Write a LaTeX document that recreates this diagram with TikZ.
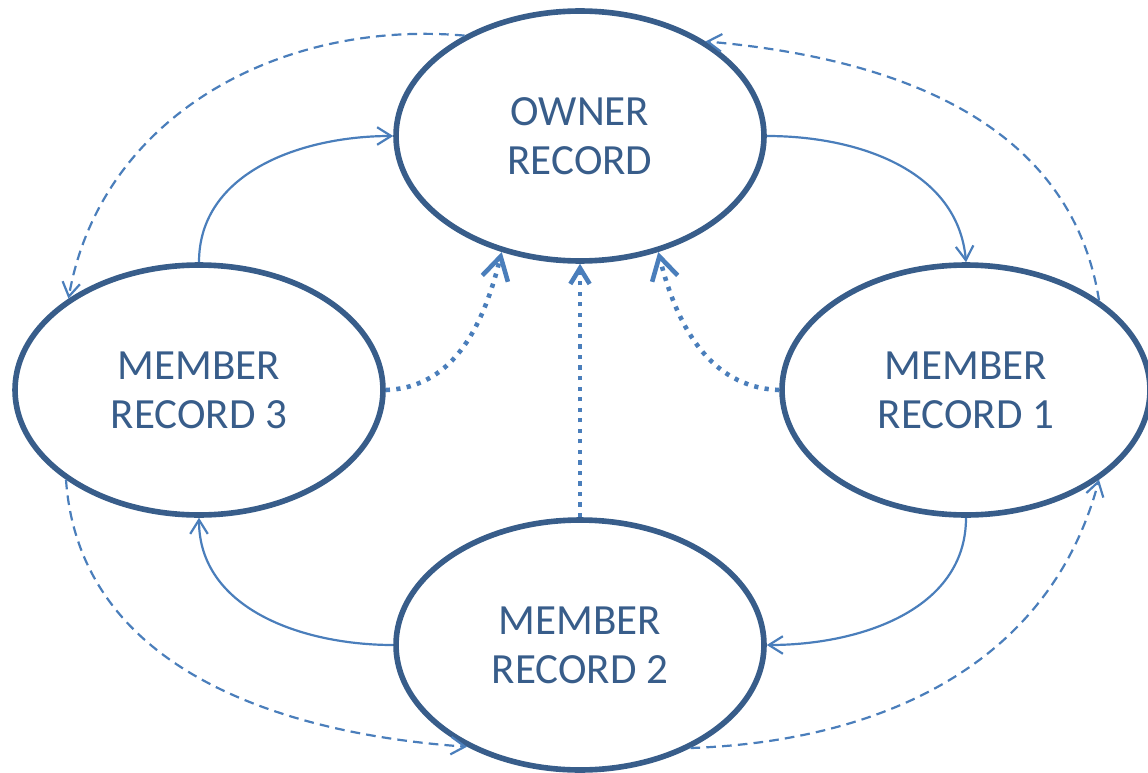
\documentclass[tikz,border=0pt]{standalone}
\usepackage{fontspec}
\setmainfont{Carlito}
\usetikzlibrary{arrows.meta, shapes.geometric}

\begin{document}
\begin{tikzpicture}[x=0.02cm, y=0.02cm]
    % Define colours
    \definecolor{borderColour}{HTML}{385D8A}
    \definecolor{lineColour}{HTML}{4A7EBB}

    % Define styles
    \tikzset{
        record/.style={ellipse, draw=borderColour, line width=3.2pt, text=borderColour,
            minimum width=7.36cm, minimum height=5.0cm, inner sep=0pt,
            align=center, font=\fontsize{24.5}{28}\selectfont},
        nextlink/.style={lineColour, line width=1.25pt,
            -{Straight Barb[length=8pt, width=10pt, line width=1.25pt]}},
        priorlink/.style={nextlink, dash pattern=on 5.5pt off 3.5pt},
        ownerlink/.style={lineColour, line width=2.6pt, dash pattern=on 2.4pt off 3.6pt,
            -{Straight Barb[length=13pt, width=15pt, line width=2.6pt]}}
    }

    % Fix the page size
    \useasboundingbox (0,0) rectangle (1148,772);

    % Draw the records
    \node[record] (owner) at (580,636) {OWNER\\RECORD};
    \node[record] (member1) at (966,382) {MEMBER\\RECORD 1};
    \node[record] (member2) at (580,127) {MEMBER\\RECORD 2};
    \node[record] (member3) at (199,382) {MEMBER\\RECORD 3};

    % Draw the next pointers
    \draw[nextlink] (owner.east) to[out=0, in=95] (member1.north);
    \draw[nextlink] (member1.south) to[out=-90, in=0] (member2.east);
    \draw[nextlink] (member2.west) to[out=180, in=-90] (member3.south);
    \draw[nextlink] (member3.north) to[out=90, in=180] (owner.west);

    % Draw the prior pointers
    \draw[priorlink] (owner.139) to[out=175, in=80] (member3.145);
    \draw[priorlink] (member3.214) to[out=-86, in=176] (member2.222);
    \draw[priorlink] (member2.-43) to[out=2, in=-105] (member1.-34);
    \draw[priorlink] (member1.34) to[out=99, in=-5] (owner.37);

    % Draw the owner pointers
    \draw[ownerlink] (member3.east) to[out=2, in=-104] (owner.236);
    \draw[ownerlink, -{Straight Barb[length=9pt, width=11pt, line width=2.6pt]}] (member2.north) -- (owner.south);
    \draw[ownerlink] (member1.west) to[out=178, in=-76] (owner.304);

\end{tikzpicture}
\end{document}
